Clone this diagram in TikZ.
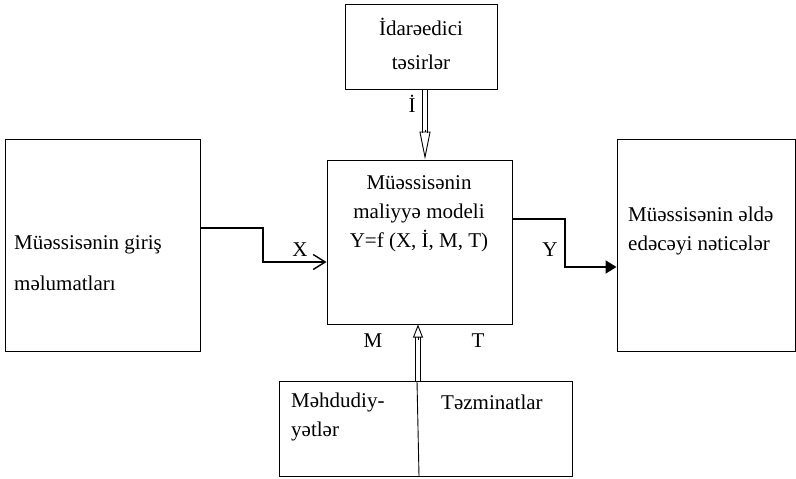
\documentclass[tikz,border=0pt]{standalone}
\usepackage{fontspec}
\setmainfont{Liberation Serif}
\usepackage{tikz}
\usetikzlibrary{arrows.meta,calc,positioning}
\tikzset{
	box/.style = {draw=black, line width=1pt, inner sep=0pt},% blok
	txt/.style = {inner sep=0pt, font=\fontsize{21}{29}\selectfont},
	lbl/.style = {inner sep=0pt, font=\fontsize{21}{25}\selectfont},% X, Y, M, T
	flowx/.style = {line width=1.8pt, -{Straight Barb[length=12pt,width=15pt,line width=1.4pt]}},
	flowy/.style = {line width=1.8pt, -{Triangle[length=11pt,width=13pt]}},
	shaft/.style = {draw=black, line width=0.9pt, double=white, double distance=#1}
}

\begin{document}
\begin{tikzpicture}[x=1pt,y=-1pt]
\useasboundingbox (0,0) rectangle (796,479);

% bloklar
\node [box, minimum width=152pt, minimum height=85pt] (ctrl) at (421,46.5) {};
\node [box, minimum width=185pt, minimum height=164pt] (model) at (419.5,242) {};
\node [box, minimum width=195pt, minimum height=212pt] (input) at (102.5,245) {};
\node [box, minimum width=178pt, minimum height=212pt] (result) at (706,245) {};
\node [box, minimum width=293pt, minimum height=95pt] (limits) at (425.5,428.5) {};
\coordinate (divtop) at (417,381);
\coordinate (divbot) at (419,476);
\draw [line width=0.9pt] (divtop) -- (divbot);

% yazilar
\node [txt, align=center] (ctrltxt) at (421,44) {\.Idarəedici\\[5pt]təsirlər};
\node [txt, align=center] (modeltxt) at (419,213.5) {Müəssisənin\\maliyyə modeli\\Y=f (X, \.I, M, T)};
\node [txt, align=left, anchor=west] (inputtxt) at (14,263) {Müəssisənin giriş\\[12pt]məlumatları};
\node [txt, align=left, anchor=west] (resulttxt) at (628,231) {Müəssisənin əldə\\edəcəyi nəticələr};
\node [txt, align=left, anchor=west] (mtxt) at (291,417) {Məhdudiy-\\yətlər};
\node [txt, anchor=west] (ttxt) at (441,402) {Təzminatlar};

% isareler
\node [lbl] (xlbl) at (300,250) {X};
\node [lbl] (ylbl) at (550,250) {Y};
\node [lbl] (ilbl) at (412,104) {\.I};
\node [lbl] (mlbl) at (373,341) {M};
\node [lbl] (tlbl) at (478,341) {T};

% girislar ve cixis
\coordinate (xbend) at (263,228);
\coordinate (xdrop) at (263,262);
\draw [flowx] (input.east |- xbend) -| (xdrop) -- (xdrop -| model.west);
\coordinate (ybend) at (565,219);
\coordinate (ydrop) at (565,267);
\draw [flowy] (model.east |- ybend) -| (ydrop) -- (ydrop -| result.west);

% idareedici tesir
\coordinate (iin) at (425,0);
\draw [shaft=3.5pt, shorten >=27pt] (ctrl.south -| iin) -- (model.north -| iin);
\draw [line width=0.9pt, -{Triangle[open,length=28pt,width=11pt]}] ($(model.north -| iin)+(0,-30)$) -- (model.north -| iin);

% mehdudiyyetler ve tezminatlar
\coordinate (min) at (418,0);
\draw [shaft=3.5pt, shorten >=12pt] (limits.north -| min) -- (model.south -| min);
\draw [line width=0.9pt, -{Triangle[open,length=13pt,width=10pt]}] ($(model.south -| min)+(0,15)$) -- (model.south -| min);
\end{tikzpicture}
\end{document}
